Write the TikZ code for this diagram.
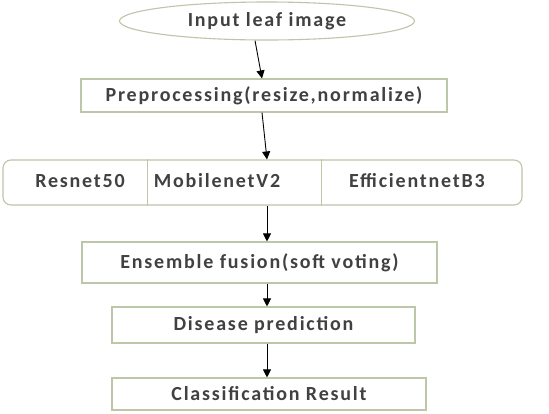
\documentclass[tikz,border=0pt]{standalone}
\usepackage{fontspec}
\setmainfont{Carlito}
\newfontfamily\boxfont[LetterSpace=9]{Carlito}
\usetikzlibrary{arrows.meta,shapes.geometric}
\definecolor{boxline}{RGB}{188,198,168}
\definecolor{txt}{RGB}{65,65,65}
\tikzset{
  stage/.style={draw=boxline,line width=1.1pt,text=txt,font=\boxfont\bfseries\fontsize{20}{22}\selectfont,inner sep=0pt},
  flow/.style={-{Triangle[width=8pt,length=8pt]},line width=0.9pt,black},
  label/.style={text=txt,font=\boxfont\bfseries\fontsize{20}{22}\selectfont,inner sep=0pt}
}
\begin{document}
\begin{tikzpicture}[x=1pt,y=-1pt]
\useasboundingbox[fill=white] (0,0) rectangle (549,413);
\node [stage,ellipse,minimum width=295pt,minimum height=38pt] (input) at (267,21) {Input leaf image};
\node [stage,minimum width=366pt,minimum height=33pt] (prep) at (264,95.5) {Preprocessing(resize,normalize)};
\node [stage,rounded corners=8pt,minimum width=519pt,minimum height=45pt] (models) at (262.5,182.5) {};
\node [label] (resnet) at (80,181) {Resnet50};
\node [label] (mobile) at (217,181) {MobilenetV2};
\node [label] (effnet) at (417,181) {EfficientnetB3};
\draw [boxline,line width=1.1pt] ([xshift=145pt]models.north west) -- ([xshift=145pt]models.south west);
\draw [boxline,line width=1.1pt] ([xshift=319pt]models.north west) -- ([xshift=319pt]models.south west);
\node [stage,minimum width=355pt,minimum height=41pt] (ens) at (259.5,262.5) {Ensemble fusion(soft voting)};
\node [stage,minimum width=303pt,minimum height=36pt] (dis) at (263.5,325) {Disease prediction};
\node [stage,minimum width=314pt,minimum height=32pt] (cls) at (269,394) {Classification Result};
\draw [flow] ([xshift=-12pt]input.south) -- ([xshift=-2pt]prep.north);
\draw [flow] ([xshift=-2pt]prep.south) -- ([xshift=4.5pt]models.north);
\draw [flow] ([xshift=4.5pt]models.south) -- ([xshift=7.5pt]ens.north);
\draw [flow] ([xshift=7.5pt]ens.south) -- ([xshift=3.5pt]dis.north);
\draw [flow] ([xshift=3.5pt]dis.south) -- ([xshift=-2pt]cls.north);
\end{tikzpicture}
\end{document}
